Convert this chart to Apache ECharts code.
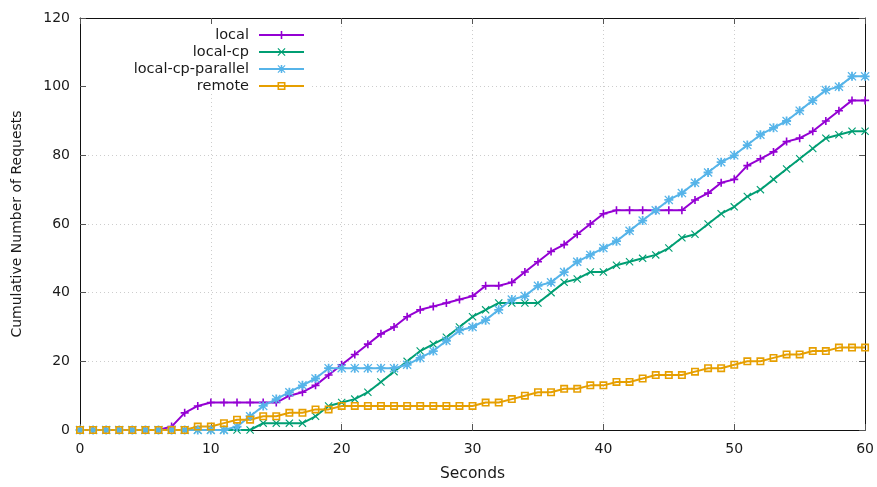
<!DOCTYPE html>
<html>
<head>
<meta charset="utf-8">
<script src="https://cdn.jsdelivr.net/npm/echarts@6/dist/echarts.min.js"></script>
<style>
  html, body { margin: 0; padding: 0; background: #fff; }
  #chart { width: 877px; height: 487px; }
</style>
</head>
<body>
<div id="chart"></div>
<script>
// Cumulative requests per second for each run mode
const seconds = Array.from({ length: 61 }, (_, i) => i);

const local = [0, 0, 0, 0, 0, 0, 0, 1, 5, 7, 8, 8, 8, 8, 8, 8, 10, 11, 13, 16, 19, 22, 25, 28, 30, 33, 35, 36, 37, 38, 39,
  42, 42, 43, 46, 49, 52, 54, 57, 60, 63, 64, 64, 64, 64, 64, 64, 67, 69, 72, 73, 77, 79, 81, 84, 85, 87, 90, 93, 96, 96];

const localCp = [0, 0, 0, 0, 0, 0, 0, 0, 0, 0, 0, 0, 0, 0, 2, 2, 2, 2, 4, 7, 8, 9, 11, 14, 17, 20, 23, 25, 27, 30, 33,
  35, 37, 37, 37, 37, 40, 43, 44, 46, 46, 48, 49, 50, 51, 53, 56, 57, 60, 63, 65, 68, 70, 73, 76, 79, 82, 85, 86, 87, 87];

const localCpParallel = [0, 0, 0, 0, 0, 0, 0, 0, 0, 0, 0, 0, 1, 4, 7, 9, 11, 13, 15, 18, 18, 18, 18, 18, 18, 19, 21, 23, 26, 29, 30,
  32, 35, 38, 39, 42, 43, 46, 49, 51, 53, 55, 58, 61, 64, 67, 69, 72, 75, 78, 80, 83, 86, 88, 90, 93, 96, 99, 100, 103, 103];

const remote = [0, 0, 0, 0, 0, 0, 0, 0, 0, 1, 1, 2, 3, 3, 4, 4, 5, 5, 6, 6, 7, 7, 7, 7, 7, 7, 7, 7, 7, 7, 7,
  8, 8, 9, 10, 11, 11, 12, 12, 13, 13, 14, 14, 15, 16, 16, 16, 17, 18, 18, 19, 20, 20, 21, 22, 22, 23, 23, 24, 24, 24];

const seriesNames = ['local', 'local-cp', 'local-cp-parallel', 'remote'];
const seriesValues = [local, localCp, localCpParallel, remote];
const colors = ['#9400d3', '#009e73', '#56b4e9', '#e69f00'];

// point markers: plus, cross, asterisk, hollow square
const PLUS = 'path://M4,0H6V4H10V6H6V10H4V6H0V4H4Z';
const CROSS = 'path://M0,1L1,0L5,4L9,0L10,1L6,5L10,9L9,10L5,6L1,10L0,9L4,5Z';
const STAR = 'path://M4,0H6V4H10V6H6V10H4V6H0V4H4Z M0,1L1,0L5,4L9,0L10,1L6,5L10,9L9,10L5,6L1,10L0,9L4,5Z';
const SQUARE = 'path://M0,0H10V10H0Z M2,2V8H8V2Z';
const symbols = [PLUS, CROSS, STAR, SQUARE];
const symbolSizes = [8, 8, 9, 8];

const FONT = 'DejaVu Sans';
const TEXT = '#1a1a1a';

const chart = echarts.init(document.getElementById('chart'), null, { renderer: 'canvas' });

const gridLine = { show: true, lineStyle: { color: '#cdcdcd', type: [1, 3], width: 1 } };
const tickStyle = { show: true, inside: true, length: 6, lineStyle: { color: '#555', width: 1 } };
const border = { show: true, onZero: false, lineStyle: { color: '#111', width: 1 } };

const option = {
  animation: false,
  backgroundColor: '#fff',
  grid: { left: 80, right: 11, top: 18, bottom: 55, containLabel: false },
  // opaque key area in the upper-left corner of the plot
  graphic: [{
    type: 'rect',
    left: 87, top: 25,
    shape: { width: 225, height: 68 },
    style: { fill: '#fff' },
    z: 1
  }],
  legend: seriesNames.map((name, i) => ({
    data: [name],
    selectedMode: false,
    orient: 'horizontal',
    align: 'right',
    right: 572,
    top: 36 + 17 * i - 8.5,
    padding: 0,
    itemWidth: 45,
    itemHeight: 10,
    z: 5,
    textStyle: { fontFamily: FONT, fontSize: 14.5, color: TEXT, padding: [0, 5, 0, 0] }
  })),
  xAxis: [
    {
      type: 'value', min: 0, max: 60, interval: 10,
      name: 'Seconds', nameLocation: 'middle', nameGap: 36,
      nameTextStyle: { fontFamily: FONT, fontSize: 15.5, color: TEXT },
      axisLine: border, axisTick: tickStyle, splitLine: gridLine,
      axisLabel: { fontFamily: FONT, fontSize: 14, color: TEXT, margin: 12 }
    },
    {
      type: 'value', min: 0, max: 60, interval: 10, position: 'top',
      axisLine: border, axisTick: tickStyle, splitLine: { show: false },
      axisLabel: { show: false }
    }
  ],
  yAxis: [
    {
      type: 'value', min: 0, max: 120, interval: 20,
      name: 'Cumulative Number of Requests', nameLocation: 'middle', nameGap: 56,
      nameTextStyle: { fontFamily: FONT, fontSize: 14, color: TEXT },
      axisLine: border, axisTick: tickStyle, splitLine: gridLine,
      axisLabel: { fontFamily: FONT, fontSize: 14, color: TEXT, margin: 10 }
    },
    {
      type: 'value', min: 0, max: 120, interval: 20, position: 'right',
      axisLine: border, axisTick: tickStyle, splitLine: { show: false },
      axisLabel: { show: false }
    }
  ],
  series: seriesNames.map((name, i) => ({
    name,
    type: 'line',
    xAxisIndex: 0,
    yAxisIndex: 0,
    z: 3,
    data: seconds.map((s, k) => [s, seriesValues[i][k]]),
    showSymbol: true,
    symbol: symbols[i],
    symbolSize: symbolSizes[i],
    color: colors[i],
    itemStyle: { color: colors[i] },
    lineStyle: { color: colors[i], width: 2 },
    emphasis: { disabled: true },
    clip: false
  }))
};

chart.setOption(option);
</script>
</body>
</html>
